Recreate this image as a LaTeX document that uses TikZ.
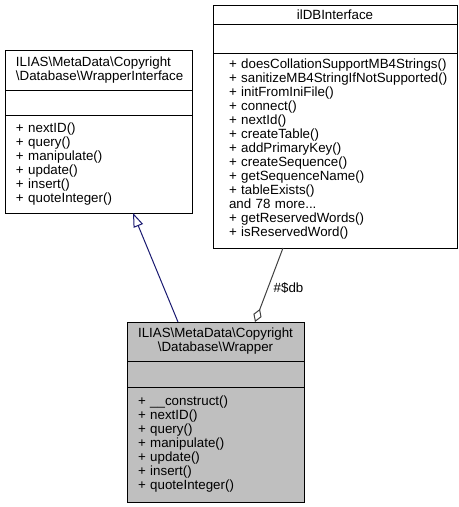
\documentclass[tikz,border=0pt]{standalone}
\usepackage{fontspec}
\setmainfont{Liberation Sans}
\usetikzlibrary{positioning, arrows.meta}
\definecolor{edgeblue}{HTML}{191970}
\definecolor{edgegray}{HTML}{404040}
\definecolor{boxgray}{HTML}{BFBFBF}
\hyphenpenalty=10000
\exhyphenpenalty=10000

\tikzset{
  part/.style={draw, rectangle, line width=0.75pt, outer sep=0pt, inner ysep=0pt,
    font=\fontsize{10}{10.5}\selectfont, align=left},
  leftbox/.style={part, minimum width=140.25pt, text width=123.75pt, inner xsep=8.25pt},
  dbbox/.style={part, minimum width=183pt, text width=159pt, inner xsep=12pt},
  mainbox/.style={part, fill=boxgray, minimum width=132.75pt, text width=116.25pt, inner xsep=8.25pt},
}

\begin{document}
\begin{tikzpicture}[x=0.75pt, y=-0.75pt]
\useasboundingbox (0,0) rectangle (458,507);

% WrapperInterface
\node[leftbox, anchor=north west, minimum height=30pt] (ifc) at (5,50)
  {ILIAS\textbackslash MetaData\textbackslash Copyright\\\textbackslash Database\textbackslash WrapperInterface};
\node[leftbox, minimum height=18.75pt, below=0pt of ifc] (ifc-attr) {};
\node[leftbox, minimum height=73.5pt, below=0pt of ifc-attr] (ifc-ops)
  {+ nextID()\\+ query()\\+ manipulate()\\+ update()\\+ insert()\\+ quoteInteger()};

% ilDBInterface
\node[dbbox, align=center, anchor=north west, minimum height=14.25pt] (db) at (213,5) {ilDBInterface};
\node[dbbox, minimum height=21.75pt, below=0pt of db] (db-attr) {};
\node[dbbox, minimum height=146.25pt, below=0pt of db-attr] (db-ops)
  {\\[-6pt]+~doesCollationSupportMB4Strings()\\+~sanitizeMB4StringIfNotSupported()\\+ initFromIniFile()\\+ connect()\\+ nextId()\\+ createTable()\\+ addPrimaryKey()\\+ createSequence()\\+ getSequenceName()\\+ tableExists()\\and 78 more...\\+ getReservedWords()\\+ isReservedWord()};

% Wrapper
\node[mainbox, align=center, anchor=north west, minimum height=29.25pt] (wrapper) at (127,322)
  {ILIAS\textbackslash MetaData\textbackslash Copyright\\\textbackslash Database\textbackslash Wrapper};
\node[mainbox, minimum height=19.5pt, below=0pt of wrapper] (wrapper-attr) {};
\node[mainbox, minimum height=86.25pt, below=0pt of wrapper-attr] (wrapper-ops)
  {+ \_\_construct()\\+ nextID()\\+ query()\\+ manipulate()\\+ update()\\+ insert()\\+ quoteInteger()};

% edges
\draw[edgeblue, line width=0.75pt, -{Triangle[open, length=10.5pt, width=7.5pt]}]
  ([xshift=38.25pt]wrapper.north west) -- ([xshift=96pt]ifc-ops.south west);
\draw[edgegray, line width=0.75pt, -{Diamond[open, length=10.5pt, width=6.5pt]}]
  ([xshift=52.5pt]db-ops.south west) -- node[pos=0.54, right, inner sep=3pt, xshift=1pt, text=black,
    font=\fontsize{10}{10.5}\selectfont] (dblabel) {\#\$db} ([xshift=96pt]wrapper.north west);
\end{tikzpicture}
\end{document}
